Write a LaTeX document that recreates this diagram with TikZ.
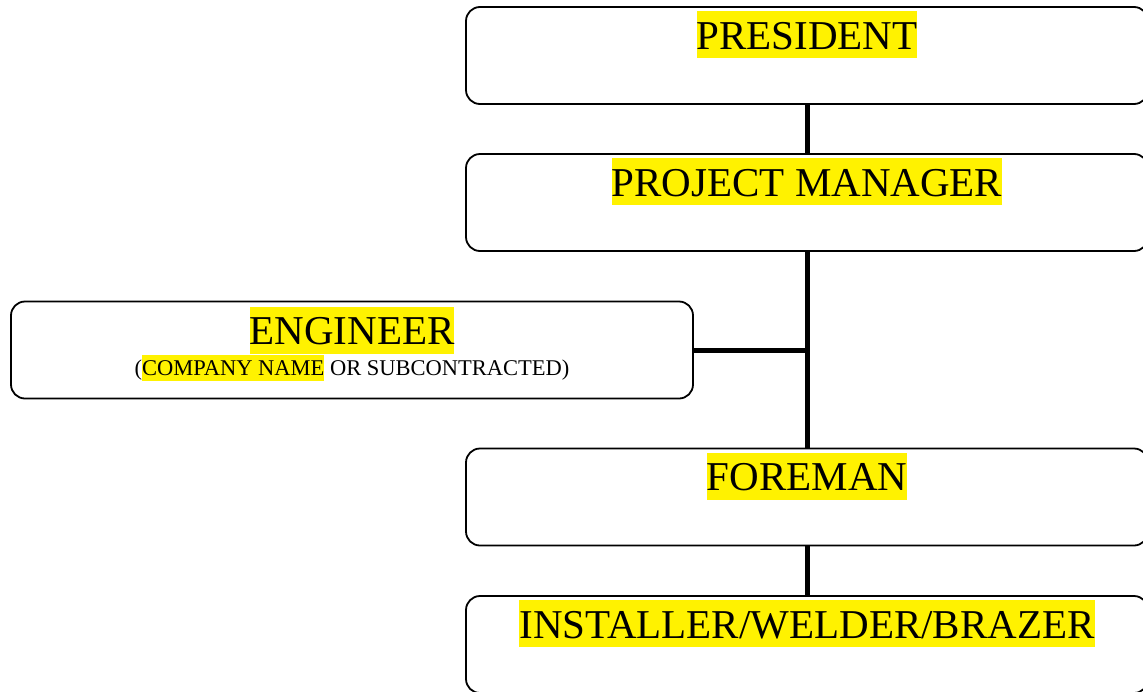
\documentclass[tikz,border=0pt]{standalone}
\usepackage{fontspec}
\setmainfont{Liberation Serif}
\usepackage{tikz}

\newcommand\hlpart[1]{{\setlength{\fboxsep}{0pt}\colorbox{yellow}{\rule[-0.22em]{0pt}{1.14em}#1}}}

\tikzset{
  post/.style={draw, line width=1.8pt, rounded corners=14pt, minimum width=682pt,
    minimum height=97pt, inner sep=0pt},
  title/.style={fill=yellow, inner sep=0pt, text height=38pt, text depth=9pt,
    anchor=base, font=\fontsize{41}{49}\selectfont},
  subtitle/.style={inner sep=0pt, anchor=base, font=\fontsize{22.5}{27}\selectfont},
  link/.style={line width=5pt}
}

\begin{document}
\begin{tikzpicture}[x=1pt,y=-1pt]
    \useasboundingbox (0,0) rectangle (1143,691);

    % boxes
    \node[post] (pres) at (807,55.5) {};
    \node[post] (pm)   at (807,202.5) {};
    \node[post] (eng)  at (352,350) {};
    \node[post] (fore) at (807,497) {};
    \node[post] (inst) at (807,644.5) {};

    % texts
    \node[title] (presT) at ([yshift=-43pt]pres.north) {PRESIDENT};
    \node[title] (pmT)   at ([yshift=-43pt]pm.north) {PROJECT MANAGER};
    \node[title] (engT)  at ([yshift=-44pt]eng.north) {ENGINEER};
    \node[subtitle] (engS) at ([yshift=-75pt]eng.north) {(\hlpart{COMPANY NAME} OR SUBCONTRACTED)};
    \node[title] (foreT) at ([yshift=-43pt]fore.north) {FOREMAN};
    \node[title] (instT) at ([yshift=-43pt]inst.north) {INSTALLER/WELDER/BRAZER};

    % connectors
    \draw[link] (pres.south) -- (pm.north);
    \draw[link] (pm.south) -- (fore.north);
    \draw[link] (fore.south) -- (inst.north);
    \draw[link] (eng.east) -- (pm.south |- eng.east);

\end{tikzpicture}
\end{document}
